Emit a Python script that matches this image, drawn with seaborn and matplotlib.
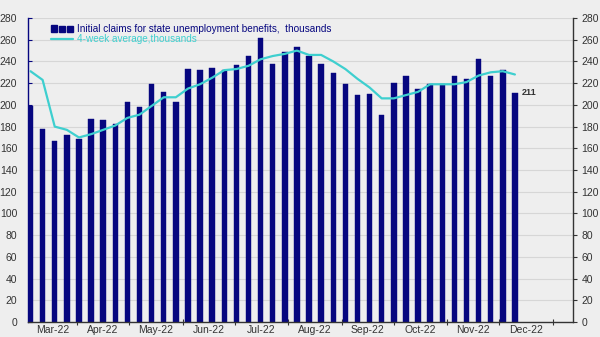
import matplotlib
matplotlib.use("Agg")
import matplotlib.pyplot as plt
import matplotlib.dates as mdates
from matplotlib.patches import Rectangle
from matplotlib.lines import Line2D
from matplotlib.legend_handler import HandlerBase
import seaborn as sns
import pandas as pd
import numpy as np

# ---- data ----
first_week = "2022-03-05"   # week ending dates (Saturdays), weekly
claims = [199, 178, 167, 172, 169, 187, 186, 182, 203, 198,
          219, 212, 203, 233, 232, 234, 232, 237, 245, 262,
          238, 249, 253, 245, 238, 229, 219, 209, 210, 191,
          220, 227, 215, 219, 219, 227, 224, 242, 227, 232, 211]
avg4 = [231, 223, 180, 177, 170, 173, 177, 181, 188, 191,
        199, 207, 207, 215, 219, 225, 232, 233, 236, 242,
        245, 247, 250, 246, 246, 240, 233, 224, 216, 206,
        206, 209, 212, 219, 219, 219, 221, 227, 230, 231, 228]
month_starts = ["2022-04-01", "2022-05-01", "2022-06-01", "2022-07-01", "2022-08-01",
                "2022-09-01", "2022-10-01", "2022-11-01", "2022-12-01", "2023-01-01"]
month_labels = ["Mar-22", "Apr-22", "May-22", "Jun-22", "Jul-22", "Aug-22",
                "Sep-22", "Oct-22", "Nov-22", "Dec-22"]
y_ticks = list(range(0, 281, 20))
label_bar = "Initial claims for state unemployment benefits,  thousands"
label_line = "4-week average,thousands"

weeks = pd.date_range(first_week, periods=len(claims), freq="7D")
df = pd.DataFrame({"x": mdates.date2num(weeks), "claims": claims, "avg": avg4})

NAVY = "#06067f"
TURQ = "#3ecfcf"
BG = "#eeeeee"
TXT = "#333333"

sns.set_theme(style="white")
plt.rcParams["font.family"] = ["Liberation Sans", "DejaVu Sans"]


class ThreeBarHandler(HandlerBase):
    def create_artists(self, legend, orig_handle, xdescent, ydescent,
                       width, height, fontsize, trans):
        arts = []
        n = 3
        gap = width * 0.08
        bw = (width - gap * (n - 1)) / n
        for i in range(n):
            h = height * (1.0 if i == 0 else 0.8)
            r = Rectangle((-xdescent + i * (bw + gap), -ydescent), bw, h,
                          facecolor=orig_handle.get_facecolor(),
                          edgecolor=orig_handle.get_facecolor(), transform=trans)
            arts.append(r)
        return arts


fig = plt.figure(figsize=(6, 3.37), dpi=100, facecolor=BG)
ax = fig.add_axes([0.047, 0.0445, 0.908, 0.902])
ax.set_facecolor(BG)

sns.barplot(data=df, x="x", y="claims", native_scale=True, width=0.45,
            color=NAVY, saturation=1, edgecolor=NAVY, linewidth=0.3, ax=ax, zorder=2)
sns.lineplot(data=df, x="x", y="avg", color=TURQ, linewidth=1.6, ax=ax, zorder=3)

xl = mdates.date2num(pd.Timestamp("2022-03-03 16:00"))
xr = mdates.date2num(pd.Timestamp("2023-01-12 14:00"))
ax.set_xlim(xl, xr)
ax.set_ylim(0, 280)

# y axis (left)
ax.set_yticks(y_ticks)
ax.yaxis.grid(True, color="#d6d6d6", linewidth=0.8, zorder=0)
ax.xaxis.grid(False)
ax.tick_params(axis="y", direction="in", length=3, width=0.8, color=NAVY,
               labelsize=7.5, labelcolor=TXT, pad=8, left=True)
ax.set_xlabel("")
ax.set_ylabel("")

# x axis: ticks at month boundaries, labels centered in segments
ms = mdates.date2num(pd.to_datetime(month_starts))
ax.set_xticks(ms)
ax.set_xticklabels([])
bounds = [xl] + list(ms)
centers = [(bounds[i] + bounds[i + 1]) / 2 for i in range(len(month_labels))]
ax.set_xticks(centers, minor=True)
ax.set_xticklabels(month_labels, minor=True)
ax.tick_params(axis="x", which="major", direction="inout", length=5, width=0.8,
               color="#333333", bottom=True)
ax.tick_params(axis="x", which="minor", length=0, labelsize=7.5, labelcolor=TXT, pad=2)

for s in ["top", "right"]:
    ax.spines[s].set_visible(False)
ax.spines["left"].set_color(NAVY)
ax.spines["left"].set_linewidth(1.0)
ax.spines["bottom"].set_color("#333333")
ax.spines["bottom"].set_linewidth(1.0)

# right axis
ax2 = ax.twinx()
ax2.set_ylim(0, 280)
ax2.set_yticks(y_ticks)
ax2.tick_params(axis="y", direction="out", length=3, width=0.8, color="#333333",
                labelsize=7.5, labelcolor=TXT, pad=3, right=True)
for s in ["top", "left", "bottom"]:
    ax2.spines[s].set_visible(False)
ax2.spines["right"].set_color("#333333")
ax2.spines["right"].set_linewidth(1.0)
ax2.grid(False)

# last value label
ax.annotate(str(claims[-1]), xy=(df["x"].iloc[-1], claims[-1]), xytext=(5, 0),
            textcoords="offset points", fontsize=6.5, fontweight="bold",
            color=TXT, va="center", ha="left")

# legend
bar_handle = Rectangle((0, 0), 1, 1, facecolor=NAVY, edgecolor=NAVY)
handles = [bar_handle, Line2D([0], [0], color=TURQ, linewidth=1.6)]
leg = ax.legend(handles, [label_bar, label_line], loc="upper left",
                bbox_to_anchor=(0.035, 0.995), frameon=False, fontsize=7.2,
                labelspacing=0.05, handlelength=2.2, handleheight=0.7,
                handletextpad=0.4, borderaxespad=0,
                handler_map={bar_handle: ThreeBarHandler()})
leg.get_texts()[0].set_color(NAVY)
leg.get_texts()[1].set_color(TURQ)

fig.savefig("out.png", dpi=100, facecolor=BG)
